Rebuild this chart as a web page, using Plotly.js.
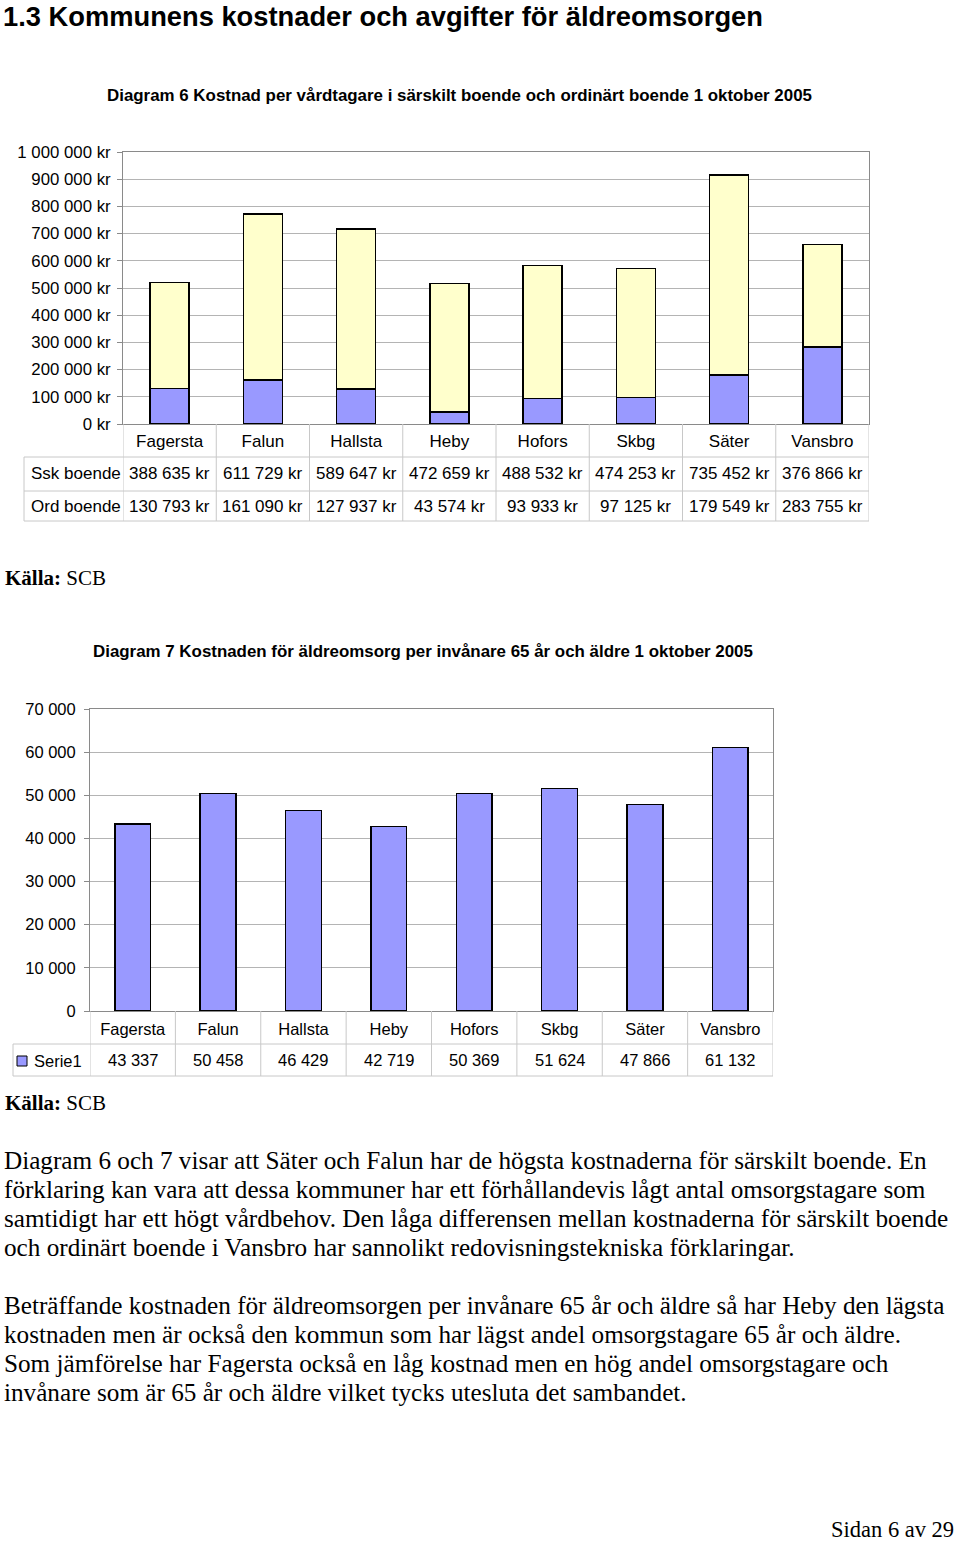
<!DOCTYPE html>
<html><head><meta charset="utf-8">
<script src="https://cdn.plot.ly/plotly-3.0.1.min.js"></script>
<style>html,body{margin:0;padding:0;background:#fff}#chart{width:960px;height:1543px}</style>
</head><body><div id="chart"></div>
<script>
const categories = ['Fagersta','Falun','Hallsta','Heby','Hofors','Skbg','Säter','Vansbro'];
const sskBoende = [388635, 611729, 589647, 472659, 488532, 474253, 735452, 376866];
const ordBoende = [130793, 161090, 127937, 43574, 93933, 97125, 179549, 283755];
const serie1 = [43337, 50458, 46429, 42719, 50369, 51624, 47866, 61132];
const rowLabels1 = ['Ssk boende', 'Ord boende'];
const rowLabel2 = 'Serie1';
const pageTitle = '1.3 Kommunens kostnader och avgifter för äldreomsorgen';
const title6 = 'Diagram 6 Kostnad per vårdtagare i särskilt boende och ordinärt boende 1 oktober 2005';
const title7 = 'Diagram 7 Kostnaden för äldreomsorg per invånare 65 år och äldre 1 oktober 2005';
const sourceText = '<b>Källa:</b> SCB';
const para1 = [
  'Diagram 6 och 7 visar att Säter och Falun har de högsta kostnaderna för särskilt boende. En',
  'förklaring kan vara att dessa kommuner har ett förhållandevis lågt antal omsorgstagare som',
  'samtidigt har ett högt vårdbehov. Den låga differensen mellan kostnaderna för särskilt boende',
  'och ordinärt boende i Vansbro har sannolikt redovisningstekniska förklaringar.'
];
const para2 = [
  'Beträffande kostnaden för äldreomsorgen per invånare 65 år och äldre så har Heby den lägsta',
  'kostnaden men är också den kommun som har lägst andel omsorgstagare 65 år och äldre.',
  'Som jämförelse har Fagersta också en låg kostnad men en hög andel omsorgstagare och',
  'invånare som är 65 år och äldre vilket tycks utesluta det sambandet.'
];
const footer = 'Sidan 6 av 29';

const W = 960, H = 1543;
const px = x => x / W, py = y => 1 - y / H;
const fmt = n => String(n).replace(/\B(?=(\d{3})+(?!\d))/g, ' ');

const BLUE = '#9999FF', YELLOW = '#FFFFCC';
const SANS = 'Liberation Sans, Arial, sans-serif';
const SERIF = 'Liberation Serif, Times New Roman, serif';
const GRID = '#b4b4b4', BORDER = '#8a8a8a', TABLE = '#c8c8c8';

const traces = [
  {type:'bar', x:categories, y:ordBoende, name:'Ord boende', xaxis:'x', yaxis:'y',
   marker:{color:BLUE, line:{color:'#000', width:1.5}}},
  {type:'bar', x:categories, y:sskBoende, name:'Ssk boende', xaxis:'x', yaxis:'y',
   marker:{color:YELLOW, line:{color:'#000', width:1.5}}},
  {type:'bar', x:categories, y:serie1, name:'Serie1', xaxis:'x2', yaxis:'y2',
   marker:{color:BLUE, line:{color:'#000', width:1.5}}}
];

const shapes = [];
const annotations = [];
function hline(y, x0, x1){ shapes.push({type:'line', xref:'paper', yref:'paper', x0:px(x0), x1:px(x1), y0:py(y), y1:py(y), line:{color:TABLE, width:1}}); }
function vlineCat(xr, xv, y0, y1){ shapes.push({type:'line', xref:xr, yref:'paper', x0:xv, x1:xv, y0:py(y0), y1:py(y1), line:{color:TABLE, width:1}}); }
function vlinePx(x, y0, y1){ shapes.push({type:'line', xref:'paper', yref:'paper', x0:px(x), x1:px(x), y0:py(y0), y1:py(y1), line:{color:TABLE, width:1}}); }
function text(t, x, y, opts){ annotations.push(Object.assign({text:t, x:x, y:y, xref:'paper', yref:'paper', showarrow:false, xanchor:'left', yanchor:'middle'}, opts||{})); }

// Table 1
[457, 491, 521].forEach(y => hline(y, 24, 869));
vlinePx(24, 457, 521);
for (let i = 0; i <= categories.length; i++) vlineCat('x', i - 0.5, 424, 521);
const rows1 = [sskBoende, ordBoende];
const rowY1 = [474, 506];
rows1.forEach((vals, r) => {
  text(rowLabels1[r], px(29), py(rowY1[r]), {font:{family:SANS, size:17, color:'#000'}});
  vals.forEach((v, i) => annotations.push({text:fmt(v) + ' kr', x:categories[i], xref:'x', y:py(rowY1[r]), yref:'paper', showarrow:false, xanchor:'center', yanchor:'middle', font:{family:SANS, size:17, color:'#000'}}));
});

// Table 2
[1044, 1076].forEach(y => hline(y, 13, 773));
vlinePx(13, 1044, 1076);
for (let i = 0; i <= categories.length; i++) vlineCat('x2', i - 0.5, 1011, 1076);
shapes.push({type:'rect', xref:'paper', yref:'paper', x0:px(17), x1:px(27), y0:py(1066), y1:py(1056), fillcolor:BLUE, line:{color:'#000', width:1}});
text(rowLabel2, px(32), py(1061), {font:{family:SANS, size:16.5, color:'#000'}});
serie1.forEach((v, i) => annotations.push({text:fmt(v), x:categories[i], xref:'x2', y:py(1060), yref:'paper', showarrow:false, xanchor:'center', yanchor:'middle', font:{family:SANS, size:16.5, color:'#000'}}));

// Texts
text('<b>' + pageTitle + '</b>', px(2), py(0), {yanchor:'top', borderpad:0, font:{family:SANS, size:27.3, color:'#000'}});
text('<b>' + title6 + '</b>', px(459), py(95), {xanchor:'center', font:{family:SANS, size:16.9, color:'#000'}});
text('<b>' + title7 + '</b>', px(423), py(651), {xanchor:'center', font:{family:SANS, size:16.9, color:'#000'}});
text(sourceText, px(3), py(578), {font:{family:SERIF, size:21, color:'#000'}});
text(sourceText, px(3), py(1103), {font:{family:SERIF, size:21, color:'#000'}});
para1.forEach((l, k) => text(l, px(2), py(1160 + 29 * k), {font:{family:SERIF, size:25.2, color:'#000'}}));
para2.forEach((l, k) => text(l, px(2), py(1305 + 29 * k), {font:{family:SERIF, size:25.2, color:'#000'}}));
text(footer, px(955), py(1543), {xanchor:'right', yanchor:'bottom', borderpad:0, font:{family:SERIF, size:22.5, color:'#000'}});

const layout = {
  width:W, height:H, margin:{l:0, r:0, t:0, b:0}, showlegend:false,
  barmode:'stack', bargap:0.58, separators:', ',
  paper_bgcolor:'#fff', plot_bgcolor:'#fff',
  font:{family:SANS, size:17, color:'#000'},
  xaxis:{domain:[px(123), px(869)], anchor:'y', type:'category', range:[-0.5, 7.5],
    showline:true, mirror:true, linecolor:BORDER, linewidth:1, ticks:'', showgrid:false,
    tickfont:{family:SANS, size:17, color:'#000'}, ticklabelstandoff:2, fixedrange:true},
  yaxis:{domain:[py(424), py(152)], anchor:'x', range:[0, 1000000], dtick:100000,
    tickformat:',d', ticksuffix:' kr', ticks:'outside', ticklen:5, tickcolor:BORDER,
    showline:true, mirror:true, linecolor:BORDER, gridcolor:GRID, zeroline:true,
    zerolinecolor:'#333', zerolinewidth:1, ticklabelstandoff:3,
    tickfont:{family:SANS, size:16.8, color:'#000'}, fixedrange:true},
  xaxis2:{domain:[px(90), px(773)], anchor:'y2', type:'category', range:[-0.5, 7.5],
    showline:true, mirror:true, linecolor:BORDER, linewidth:1, ticks:'', showgrid:false,
    tickfont:{family:SANS, size:16.5, color:'#000'}, ticklabelstandoff:3, fixedrange:true},
  yaxis2:{domain:[py(1011), py(709)], anchor:'x2', range:[0, 70000], dtick:10000,
    tickformat:',d', ticks:'outside', ticklen:5, tickcolor:BORDER,
    showline:true, mirror:true, linecolor:BORDER, gridcolor:GRID, zeroline:true,
    zerolinecolor:'#333', zerolinewidth:1, ticklabelstandoff:5,
    tickfont:{family:SANS, size:16.5, color:'#000'}, fixedrange:true},
  shapes:shapes, annotations:annotations
};

Plotly.newPlot('chart', traces, layout, {staticPlot:true, displayModeBar:false});
</script>
</body></html>
